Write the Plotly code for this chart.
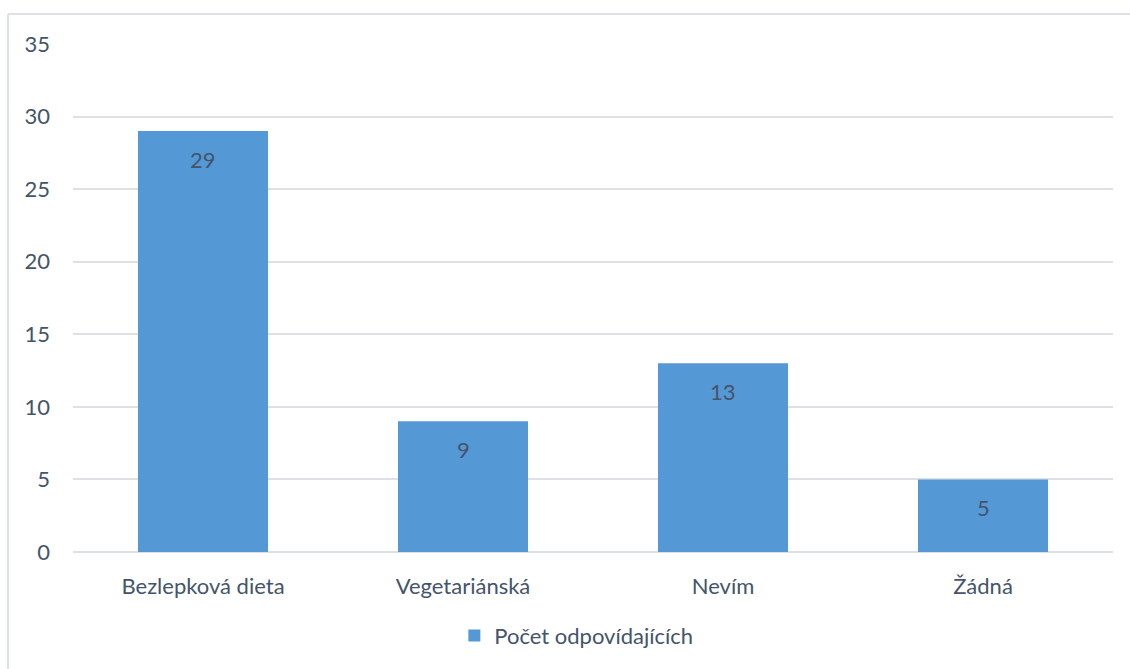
import plotly.graph_objects as go

categories = ["Bezlepková dieta", "Vegetariánská", "Nevím", "Žádná"]
values = [29, 9, 13, 5]
series_name = "Počet odpovídajících"
y_ticks = [0, 5, 10, 15, 20, 25, 30, 35]

text_color = "#44546A"
font_family = "Lato, 'Open Sans', sans-serif"

fig = go.Figure()
fig.add_trace(go.Bar(
    x=categories,
    y=values,
    name=series_name,
    textposition="none",
    marker=dict(color="#5598D6", line=dict(width=0)),
    showlegend=True,
))

annotations = [
    dict(x=c, y=v, xref="x", yref="y", text=str(v), showarrow=False,
         yshift=-28, font=dict(size=22, color=text_color, family=font_family))
    for c, v in zip(categories, values)
]

fig.update_layout(
    width=1130,
    height=669,
    paper_bgcolor="white",
    plot_bgcolor="white",
    margin=dict(l=73, r=17, t=44, b=117),
    bargap=0.5,
    font=dict(family=font_family, color=text_color, size=22),
    xaxis=dict(
        showgrid=False,
        showline=False,
        ticks="",
        tickfont=dict(size=22, color=text_color),
        ticklabelstandoff=19,
    ),
    yaxis=dict(
        range=[0, 35],
        tickvals=y_ticks,
        showgrid=True,
        gridcolor="#DDE1E6",
        gridwidth=1.5,
        zeroline=True,
        zerolinecolor="#DDE1E6",
        zerolinewidth=1.5,
        ticks="",
        tickfont=dict(size=22, color=text_color),
        ticklabelstandoff=22,
    ),
    legend=dict(
        orientation="h",
        x=0.484,
        xanchor="center",
        y=-0.165,
        yanchor="middle",
        font=dict(size=22, color=text_color),
        itemsizing="constant",
        itemwidth=30,
    ),
    annotations=annotations,
    shapes=[
        dict(type="line", xref="paper", yref="paper",
             x0=-0.0625, x1=1.02, y0=1.059, y1=1.059,
             line=dict(color="#DDE1E6", width=2)),
        dict(type="line", xref="paper", yref="paper",
             x0=-0.0625, x1=-0.0625, y0=-0.3, y1=1.059,
             line=dict(color="#DDE1E6", width=2)),
    ],
)

fig.write_html(
    "out.html",
    config={"displayModeBar": False},
    post_script="document.body.style.margin='0';document.body.style.overflow='hidden';",
)
